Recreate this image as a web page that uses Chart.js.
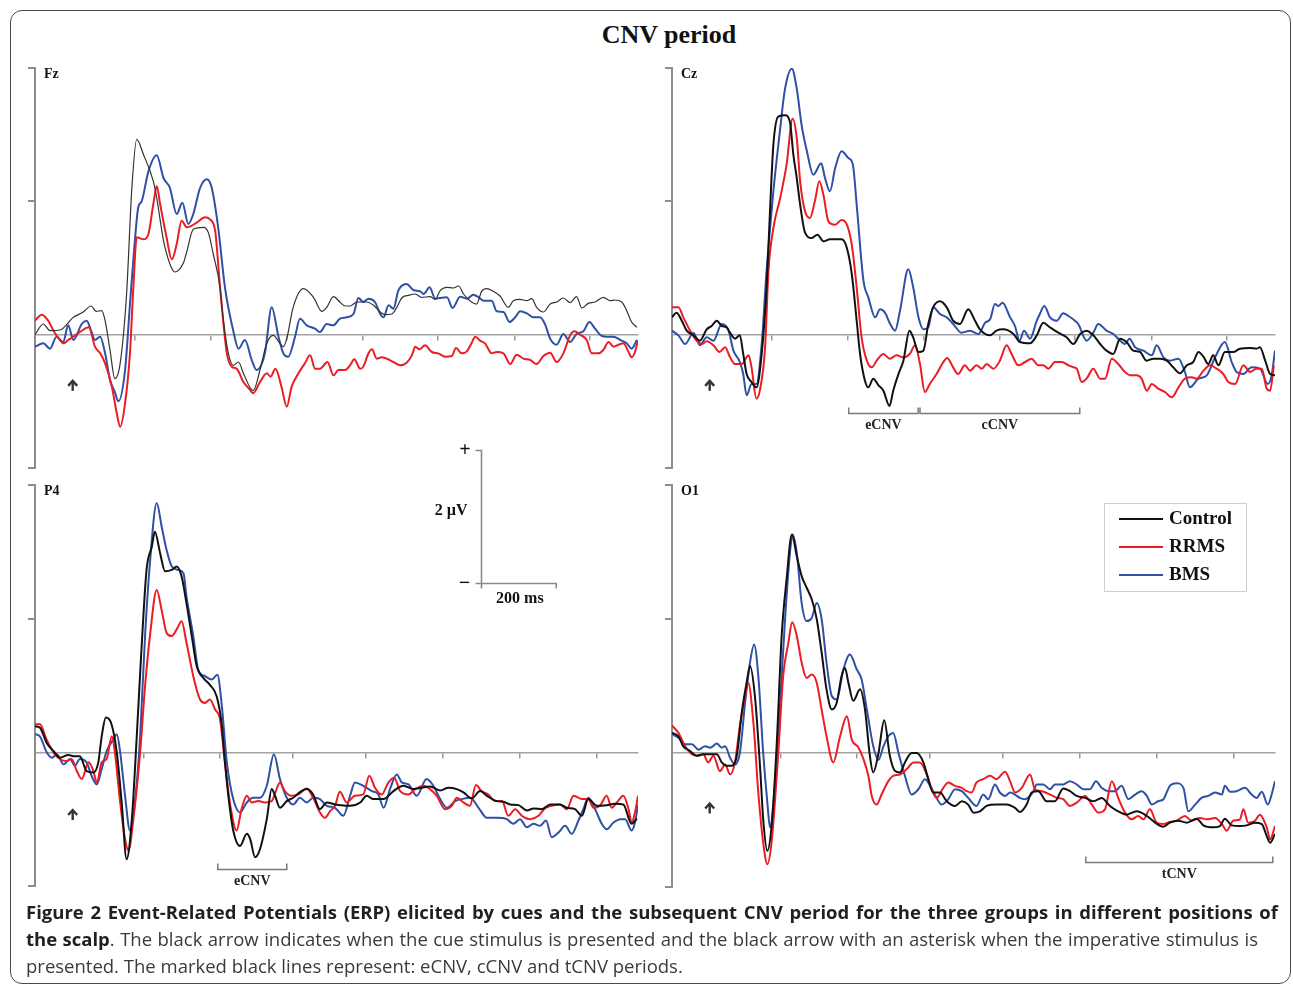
<!DOCTYPE html>
<html><head><meta charset="utf-8">
<script src="https://cdn.jsdelivr.net/npm/chart.js@4.4.1/dist/chart.umd.min.js"></script>
<style>
html,body{margin:0;padding:0;background:#fff;}
body{width:1293px;height:984px;position:relative;overflow:hidden;}
#frame{position:absolute;left:10px;top:10px;width:1281px;height:974px;box-sizing:border-box;border:1.5px solid #4a4a4a;border-radius:12px;}
#title{position:absolute;left:669px;top:20px;transform:translateX(-50%);font:bold 26px 'Liberation Serif',serif;color:#111;white-space:nowrap;}
canvas{position:absolute;}
.cap{position:absolute;left:26px;width:1252px;font:18.5px 'Open Sans',sans-serif;line-height:24px;color:#3a3a3a;white-space:nowrap;}
.j{text-align:justify;text-align-last:justify;}
.cap b{color:#231f20;font-weight:700;}
</style></head>
<body>
<div id="frame"></div>
<div id="title">CNV period</div>
<canvas id="cFz" width="640" height="560" style="left:20px;top:58px"></canvas>
<canvas id="cCz" width="636" height="422" style="left:657px;top:58px"></canvas>
<canvas id="cP4" width="640" height="425" style="left:20px;top:475px"></canvas>
<canvas id="cO1" width="636" height="425" style="left:657px;top:475px"></canvas>
<div class="cap j" id="cap1" style="top:900px"><b>Figure 2 Event-Related Potentials (ERP) elicited by cues and the subsequent CNV period for the three groups in different positions of</b></div>
<div class="cap j" id="cap2" style="top:927px;width:1232px"><b>the scalp</b>. The black arrow indicates when the cue stimulus is presented and the black arrow with an asterisk when the imperative stimulus is</div>
<div class="cap" id="cap3" style="top:954px">presented. The marked black lines represent: eCNV, cCNV and tCNV periods.</div>
<script>
// ---- data: [time (ms), amplitude (µV)] ----
const groups = ['Control', 'RRMS', 'BMS'];

const fzControl = [[-100,0.00],[-78,0.16],[-60,0.06],[-34,0.07],[2,0.26],[28,0.34],[49,0.43],[62,0.35],[77,0.36],[86,0.21],[99,-0.23],[112,-0.66],[126,-0.43],[143,0.61],[157,2.20],[170,2.93],[188,2.70],[214,2.30],[223,2.05],[241,1.41],[258,1.06],[271,0.94],[294,1.08],[302,1.23],[320,1.58],[347,1.61],[360,1.53],[373,1.21],[391,0.71],[400,0.21],[413,-0.28],[426,-0.46],[440,-0.41],[453,-0.58],[479,-0.84],[497,-0.53],[515,-0.13],[532,-0.01],[550,-0.13],[559,-0.18],[568,-0.06],[585,0.41],[612,0.69],[639,0.56],[661,0.35],[674,0.41],[692,0.57],[709,0.49],[723,0.43],[736,0.43],[754,0.49],[780,0.49],[798,0.44],[816,0.34],[829,0.30],[847,0.31],[860,0.41],[873,0.55],[891,0.59],[909,0.61],[926,0.56],[948,0.57],[962,0.53],[975,0.66],[993,0.71],[1010,0.70],[1024,0.73],[1037,0.61],[1054,0.51],[1072,0.46],[1085,0.65],[1099,0.69],[1116,0.65],[1134,0.58],[1156,0.41],[1169,0.51],[1187,0.53],[1205,0.51],[1218,0.54],[1231,0.41],[1249,0.34],[1267,0.46],[1284,0.49],[1302,0.55],[1320,0.48],[1337,0.57],[1351,0.40],[1368,0.47],[1386,0.49],[1408,0.56],[1426,0.51],[1439,0.52],[1457,0.49],[1470,0.36],[1483,0.19],[1497,0.11]];
const fzRRMS = [[-100,0.21],[-82,0.30],[-65,0.21],[-51,0.06],[-34,-0.08],[-25,-0.13],[-12,-0.08],[2,-0.03],[19,0.04],[43,0.11],[59,-0.18],[73,-0.28],[86,-0.43],[104,-0.78],[117,-1.18],[126,-1.38],[139,-1.03],[152,-0.28],[161,0.71],[170,1.46],[188,1.43],[201,1.51],[214,1.96],[223,2.23],[232,1.96],[249,1.46],[263,1.13],[276,1.36],[289,1.71],[303,1.61],[329,1.68],[351,1.76],[364,1.73],[378,1.56],[391,0.71],[409,-0.28],[422,-0.48],[435,-0.51],[453,-0.71],[471,-0.83],[479,-0.88],[497,-0.71],[515,-0.58],[525,-0.63],[538,-0.51],[554,-0.78],[568,-1.08],[581,-0.78],[599,-0.58],[616,-0.43],[630,-0.31],[643,-0.51],[656,-0.51],[676,-0.41],[692,-0.61],[705,-0.53],[723,-0.53],[736,-0.46],[747,-0.37],[763,-0.51],[771,-0.48],[785,-0.28],[794,-0.22],[807,-0.36],[820,-0.34],[833,-0.36],[851,-0.41],[869,-0.46],[886,-0.42],[900,-0.31],[909,-0.18],[920,-0.22],[935,-0.16],[953,-0.26],[970,-0.28],[988,-0.33],[1006,-0.32],[1017,-0.20],[1032,-0.28],[1046,-0.25],[1059,-0.12],[1068,-0.03],[1081,-0.09],[1094,-0.13],[1112,-0.28],[1125,-0.26],[1143,-0.28],[1161,-0.44],[1178,-0.30],[1196,-0.36],[1214,-0.38],[1231,-0.44],[1249,-0.32],[1267,-0.27],[1284,-0.41],[1302,-0.28],[1320,-0.01],[1331,0.05],[1346,0.00],[1364,-0.08],[1377,-0.28],[1395,-0.28],[1408,-0.23],[1422,-0.11],[1435,-0.18],[1453,-0.14],[1461,-0.13],[1475,-0.26],[1483,-0.34],[1492,-0.26],[1500,-0.08]];
const fzBMS = [[-100,-0.18],[-78,-0.13],[-60,-0.21],[-43,-0.03],[-25,-0.11],[-12,0.14],[2,-0.08],[24,0.16],[37,0.21],[50,0.04],[59,-0.08],[73,-0.03],[86,-0.28],[99,-0.68],[112,-0.86],[121,-1.00],[139,-0.53],[152,0.46],[165,1.41],[174,1.91],[183,2.00],[201,2.45],[223,2.69],[241,2.35],[258,2.20],[276,1.81],[291,1.98],[307,1.66],[320,1.81],[338,2.20],[356,2.33],[369,2.20],[386,1.61],[404,0.71],[426,0.06],[440,-0.21],[457,-0.08],[475,-0.38],[488,-0.53],[510,-0.28],[528,0.41],[546,-0.03],[559,-0.28],[572,-0.33],[590,-0.03],[603,0.24],[621,0.14],[643,0.09],[656,0.04],[674,0.16],[692,0.14],[709,0.24],[727,0.26],[745,0.31],[758,0.55],[771,0.49],[785,0.54],[802,0.49],[816,0.31],[825,0.26],[838,0.44],[851,0.39],[864,0.66],[886,0.76],[904,0.67],[922,0.65],[931,0.61],[947,0.71],[962,0.54],[975,0.55],[993,0.56],[1008,0.40],[1028,0.57],[1046,0.54],[1063,0.60],[1077,0.56],[1090,0.51],[1112,0.51],[1125,0.35],[1143,0.34],[1159,0.19],[1174,0.26],[1187,0.35],[1205,0.32],[1223,0.26],[1240,0.26],[1253,0.16],[1267,-0.06],[1284,-0.15],[1302,0.01],[1320,-0.11],[1337,0.01],[1355,0.05],[1371,0.19],[1386,0.09],[1404,-0.02],[1417,-0.03],[1435,-0.03],[1453,-0.08],[1470,-0.13],[1483,-0.21],[1497,-0.08]];

const czControl = [[-100,0.26],[-88,0.33],[-74,0.21],[-61,0.06],[-43,-0.01],[-26,-0.09],[-8,0.08],[5,0.13],[19,0.21],[32,0.13],[45,0.11],[54,0.03],[67,-0.06],[80,-0.01],[89,-0.29],[98,-0.59],[111,-0.71],[124,-0.79],[138,-0.29],[151,0.71],[160,1.85],[169,2.85],[182,3.27],[200,3.29],[213,3.19],[222,2.70],[231,2.35],[240,1.95],[253,1.53],[271,1.45],[286,1.50],[302,1.40],[319,1.43],[350,1.43],[364,1.30],[377,0.91],[390,0.21],[399,-0.29],[412,-0.69],[421,-0.79],[434,-0.66],[448,-0.76],[461,-0.84],[477,-1.07],[487,-0.84],[501,-0.59],[514,-0.39],[530,0.06],[540,-0.04],[554,-0.26],[567,-0.24],[580,0.16],[593,0.41],[611,0.50],[629,0.41],[646,0.21],[664,0.16],[686,0.38],[704,0.21],[717,0.08],[744,-0.01],[761,0.06],[779,0.08],[806,0.01],[823,-0.11],[850,-0.13],[868,-0.01],[885,0.18],[903,0.11],[925,0.03],[947,-0.04],[965,-0.14],[983,0.01],[1000,0.06],[1018,-0.01],[1036,-0.14],[1053,-0.24],[1071,-0.29],[1089,-0.06],[1106,-0.11],[1124,-0.24],[1142,-0.26],[1159,-0.39],[1177,-0.36],[1195,-0.36],[1213,-0.39],[1230,-0.49],[1248,-0.58],[1266,-0.46],[1283,-0.41],[1297,-0.26],[1310,-0.33],[1323,-0.44],[1336,-0.31],[1350,-0.46],[1367,-0.26],[1389,-0.26],[1407,-0.21],[1434,-0.20],[1451,-0.21],[1460,-0.19],[1474,-0.39],[1487,-0.59],[1500,-0.61]];
const czRRMS = [[-100,0.41],[-83,0.41],[-70,0.26],[-52,0.06],[-35,-0.09],[-21,-0.14],[-8,-0.10],[10,-0.16],[26,-0.26],[41,-0.19],[54,-0.34],[67,-0.44],[85,-0.44],[103,-0.31],[111,-0.49],[124,-0.96],[133,-0.84],[147,-0.19],[156,0.96],[169,1.60],[187,2.05],[204,2.55],[220,3.24],[231,2.95],[240,2.30],[253,1.85],[266,1.75],[279,2.00],[291,2.30],[302,2.09],[315,1.70],[333,1.65],[350,1.72],[364,1.65],[377,1.35],[390,0.71],[403,-0.04],[417,-0.39],[430,-0.49],[443,-0.39],[461,-0.29],[478,-0.36],[496,-0.31],[514,-0.34],[531,-0.29],[545,-0.16],[558,-0.44],[571,-0.86],[584,-0.74],[602,-0.59],[620,-0.41],[630,-0.35],[646,-0.49],[659,-0.59],[677,-0.46],[691,-0.54],[708,-0.46],[722,-0.51],[735,-0.44],[753,-0.51],[770,-0.39],[788,-0.16],[801,-0.29],[819,-0.46],[837,-0.41],[854,-0.36],[872,-0.46],[885,-0.46],[899,-0.51],[916,-0.41],[934,-0.41],[952,-0.46],[965,-0.49],[974,-0.51],[987,-0.71],[1000,-0.66],[1018,-0.51],[1036,-0.66],[1049,-0.66],[1067,-0.36],[1084,-0.44],[1102,-0.56],[1115,-0.61],[1133,-0.61],[1146,-0.66],[1160,-0.84],[1173,-0.74],[1190,-0.81],[1208,-0.86],[1226,-0.94],[1244,-0.79],[1261,-0.66],[1279,-0.64],[1292,-0.66],[1310,-0.54],[1328,-0.46],[1345,-0.51],[1363,-0.59],[1376,-0.71],[1394,-0.74],[1416,-0.46],[1434,-0.56],[1451,-0.51],[1465,-0.51],[1478,-0.81],[1487,-0.84],[1497,-0.46]];
const czBMS = [[-100,0.06],[-83,-0.01],[-65,-0.14],[-43,0.03],[-26,-0.16],[-8,-0.04],[10,-0.09],[32,0.16],[50,0.06],[63,-0.24],[80,-0.41],[89,-0.59],[98,-0.91],[111,-0.74],[124,-0.74],[138,-0.14],[151,0.96],[169,2.15],[187,3.09],[200,3.69],[218,3.99],[231,3.69],[244,3.14],[258,2.75],[275,2.40],[296,2.57],[306,2.35],[319,2.15],[333,2.50],[350,2.75],[368,2.65],[380,2.55],[390,1.95],[408,0.81],[421,0.56],[439,0.26],[452,0.38],[465,0.33],[479,0.16],[492,0.06],[505,0.36],[527,0.98],[540,0.71],[554,0.26],[567,0.08],[580,0.11],[593,0.41],[611,0.31],[629,0.26],[646,0.16],[668,0.03],[691,0.06],[713,0.01],[731,0.18],[744,0.23],[757,0.46],[766,0.43],[777,0.48],[797,0.26],[810,0.13],[822,-0.09],[834,0.06],[850,-0.06],[868,0.21],[876,0.31],[888,0.43],[903,0.26],[921,0.21],[938,0.32],[952,0.28],[969,0.21],[978,0.16],[1000,-0.09],[1018,0.03],[1031,0.16],[1053,0.06],[1071,0.01],[1089,-0.09],[1102,-0.14],[1114,-0.06],[1129,-0.19],[1151,-0.24],[1173,-0.31],[1186,-0.16],[1204,-0.34],[1221,-0.39],[1244,-0.36],[1261,-0.56],[1274,-0.79],[1297,-0.66],[1319,-0.61],[1341,-0.34],[1367,-0.11],[1385,-0.41],[1398,-0.56],[1416,-0.59],[1438,-0.49],[1460,-0.51],[1481,-0.74],[1491,-0.61],[1500,-0.24]];

const p4Control = [[-100,0.39],[-87,0.37],[-69,0.14],[-51,0.02],[-34,-0.08],[-12,-0.04],[6,-0.06],[19,-0.06],[37,-0.28],[55,-0.30],[68,-0.15],[77,0.24],[88,0.52],[103,0.42],[117,0.00],[130,-0.75],[143,-1.60],[157,-1.00],[170,0.24],[183,1.59],[196,2.73],[210,3.08],[218,3.30],[232,2.98],[245,2.71],[263,2.73],[276,2.78],[289,2.63],[302,2.23],[316,1.74],[329,1.29],[347,1.11],[364,1.01],[382,0.84],[395,0.44],[404,-0.15],[413,-0.65],[426,-1.17],[444,-1.40],[462,-1.22],[471,-1.30],[484,-1.57],[497,-1.45],[515,-1.00],[528,-0.55],[537,-0.65],[550,-0.83],[568,-0.73],[585,-0.68],[607,-0.58],[621,-0.55],[638,-0.63],[656,-0.85],[674,-0.75],[696,-0.78],[710,-0.79],[736,-0.80],[763,-0.75],[780,-0.65],[798,-0.70],[825,-0.70],[851,-0.58],[878,-0.50],[904,-0.55],[926,-0.53],[948,-0.51],[975,-0.57],[997,-0.53],[1019,-0.55],[1037,-0.60],[1059,-0.69],[1081,-0.58],[1099,-0.65],[1125,-0.73],[1143,-0.74],[1161,-0.78],[1183,-0.79],[1205,-0.87],[1223,-0.84],[1245,-0.85],[1267,-0.78],[1293,-0.78],[1311,-0.83],[1333,-0.85],[1351,-0.95],[1368,-0.70],[1391,-0.80],[1417,-0.79],[1439,-0.77],[1461,-0.78],[1483,-1.07],[1497,-0.99]];
const p4RRMS = [[-100,0.42],[-87,0.42],[-69,0.19],[-51,0.00],[-34,-0.10],[-16,-0.13],[-3,-0.10],[11,-0.28],[24,-0.40],[42,-0.15],[55,-0.28],[64,-0.45],[77,-0.15],[90,-0.10],[104,0.24],[112,0.00],[126,-0.75],[139,-1.30],[148,-1.47],[161,-1.00],[179,0.00],[192,0.99],[205,1.74],[223,2.43],[236,2.13],[249,1.79],[263,1.74],[276,1.84],[289,1.96],[302,1.64],[320,1.14],[338,0.79],[351,0.74],[364,0.79],[378,0.64],[391,0.49],[404,-0.15],[417,-0.75],[435,-1.17],[448,-0.85],[462,-0.65],[475,-0.75],[493,-0.73],[510,-0.75],[528,-0.73],[541,-0.55],[550,-0.45],[563,-0.58],[581,-0.65],[599,-0.63],[621,-0.54],[638,-0.68],[656,-0.90],[669,-0.98],[683,-0.88],[696,-0.80],[709,-0.59],[727,-0.75],[749,-0.65],[771,-0.63],[787,-0.35],[802,-0.53],[820,-0.63],[838,-0.45],[853,-0.38],[869,-0.58],[891,-0.63],[909,-0.55],[931,-0.50],[948,-0.55],[966,-0.65],[988,-0.85],[1006,-0.80],[1019,-0.68],[1037,-0.75],[1054,-0.80],[1070,-0.49],[1085,-0.58],[1103,-0.63],[1121,-0.73],[1139,-0.73],[1156,-0.95],[1174,-0.85],[1192,-0.95],[1214,-1.00],[1236,-0.95],[1253,-0.84],[1271,-0.80],[1293,-0.78],[1311,-0.85],[1329,-0.65],[1351,-0.70],[1368,-0.70],[1382,-0.83],[1399,-0.80],[1417,-0.65],[1430,-0.83],[1444,-0.75],[1461,-0.65],[1475,-0.85],[1483,-1.05],[1492,-0.90],[1500,-0.65]];
const p4BMS = [[-100,0.27],[-87,0.24],[-69,0.00],[-55,-0.08],[-42,-0.03],[-24,-0.18],[-7,-0.10],[6,-0.20],[19,-0.10],[37,-0.15],[50,-0.35],[64,-0.48],[77,-0.25],[90,0.02],[108,0.19],[117,0.27],[126,0.00],[139,-0.65],[152,-1.17],[165,-0.75],[179,0.24],[192,1.74],[205,2.83],[223,3.73],[236,3.38],[249,3.03],[263,2.78],[280,2.73],[294,2.68],[302,2.33],[320,1.74],[333,1.24],[351,1.14],[369,1.09],[384,1.16],[395,0.74],[409,-0.15],[426,-0.70],[444,-0.90],[462,-0.75],[479,-0.68],[497,-0.68],[515,-0.50],[534,-0.03],[550,-0.40],[568,-0.68],[585,-0.78],[603,-0.68],[621,-0.75],[638,-0.68],[656,-0.70],[674,-0.80],[696,-0.83],[718,-0.95],[736,-0.65],[749,-0.45],[771,-0.50],[794,-0.58],[811,-0.63],[825,-0.83],[842,-0.55],[860,-0.33],[873,-0.45],[891,-0.48],[913,-0.65],[939,-0.40],[957,-0.50],[975,-0.70],[993,-0.83],[1015,-0.73],[1032,-0.70],[1055,-0.68],[1077,-0.83],[1099,-0.98],[1125,-0.98],[1152,-1.00],[1169,-1.07],[1187,-1.00],[1205,-1.12],[1223,-1.07],[1240,-1.10],[1256,-1.02],[1271,-1.27],[1289,-1.20],[1307,-1.10],[1324,-1.22],[1342,-1.02],[1355,-0.85],[1368,-0.68],[1386,-0.85],[1404,-1.07],[1417,-1.15],[1435,-1.05],[1453,-1.00],[1466,-1.00],[1483,-1.17],[1492,-1.05],[1500,-0.78]];

const o1Control = [[-100,0.30],[-83,0.25],[-70,0.10],[-52,0.03],[-35,-0.04],[-17,-0.02],[1,-0.02],[19,-0.02],[32,-0.14],[45,-0.19],[58,-0.19],[72,-0.04],[85,0.60],[98,1.05],[107,1.30],[120,0.85],[134,-0.24],[142,-0.99],[153,-1.46],[165,-1.04],[178,0.15],[191,1.75],[204,2.59],[218,3.26],[231,2.94],[244,2.64],[257,2.47],[271,2.29],[284,2.00],[297,1.50],[310,0.95],[324,0.65],[337,0.75],[350,1.15],[359,1.27],[368,1.05],[381,0.78],[399,0.95],[412,0.65],[425,-0.04],[434,-0.29],[448,0.00],[463,0.49],[478,-0.04],[492,-0.27],[505,-0.29],[518,-0.14],[536,0.00],[549,0.00],[567,-0.14],[580,-0.39],[593,-0.59],[611,-0.59],[629,-0.72],[651,-0.79],[669,-0.72],[686,-0.77],[700,-0.89],[717,-0.87],[735,-0.79],[761,-0.77],[788,-0.77],[810,-0.82],[823,-0.88],[841,-0.77],[854,-0.59],[872,-0.57],[894,-0.72],[916,-0.72],[938,-0.53],[956,-0.57],[974,-0.64],[996,-0.67],[1018,-0.72],[1040,-0.67],[1062,-0.79],[1084,-0.87],[1106,-0.92],[1133,-0.87],[1160,-0.94],[1182,-1.04],[1204,-1.10],[1221,-1.04],[1243,-1.01],[1266,-1.04],[1292,-0.98],[1310,-1.08],[1336,-1.11],[1354,-1.09],[1367,-0.98],[1385,-1.08],[1407,-1.09],[1425,-1.08],[1447,-1.04],[1465,-1.06],[1478,-1.24],[1487,-1.34],[1500,-1.21]];
const o1RRMS = [[-100,0.41],[-83,0.30],[-65,0.10],[-47,-0.02],[-30,-0.04],[-17,-0.02],[-4,-0.14],[10,-0.04],[27,-0.27],[41,-0.17],[54,-0.32],[67,-0.14],[80,0.40],[94,0.85],[102,1.05],[116,0.45],[129,-0.59],[142,-1.34],[153,-1.66],[165,-1.29],[182,0.00],[195,1.15],[209,1.65],[219,1.95],[231,1.75],[244,1.35],[257,1.12],[271,1.17],[284,1.05],[297,0.65],[310,0.25],[328,-0.14],[346,0.25],[364,0.55],[377,0.20],[395,0.08],[408,-0.09],[421,-0.34],[430,-0.64],[443,-0.77],[456,-0.62],[474,-0.42],[487,-0.34],[505,-0.32],[523,-0.24],[541,-0.14],[558,-0.14],[576,-0.32],[589,-0.54],[602,-0.67],[620,-0.52],[633,-0.44],[651,-0.49],[669,-0.52],[682,-0.57],[695,-0.59],[708,-0.44],[726,-0.39],[744,-0.34],[761,-0.39],[784,-0.28],[797,-0.42],[810,-0.59],[828,-0.52],[850,-0.32],[863,-0.54],[881,-0.57],[903,-0.62],[921,-0.67],[938,-0.69],[956,-0.79],[974,-0.74],[996,-0.64],[1014,-0.77],[1031,-0.89],[1049,-0.84],[1067,-0.42],[1084,-0.67],[1102,-0.89],[1120,-0.99],[1137,-0.94],[1151,-0.99],[1168,-0.84],[1186,-1.04],[1204,-1.06],[1221,-1.03],[1239,-1.01],[1261,-0.94],[1279,-1.01],[1301,-0.97],[1319,-0.99],[1341,-0.97],[1359,-1.06],[1372,-1.16],[1389,-1.01],[1407,-0.99],[1416,-0.84],[1429,-1.04],[1447,-1.01],[1460,-0.92],[1478,-1.11],[1487,-1.29],[1500,-1.09]];
const o1BMS = [[-100,0.28],[-83,0.23],[-65,0.13],[-47,0.13],[-30,0.05],[-12,0.10],[1,0.08],[19,0.14],[32,0.08],[41,0.10],[54,-0.07],[67,-0.17],[80,0.00],[94,0.75],[107,1.35],[118,1.62],[129,1.15],[142,0.00],[153,-0.74],[160,-1.11],[173,-0.49],[187,0.75],[200,2.00],[213,2.99],[220,3.26],[231,2.99],[244,2.24],[257,1.97],[271,2.02],[284,2.24],[297,2.00],[310,1.35],[324,0.85],[337,0.80],[355,1.25],[372,1.47],[390,1.25],[403,1.10],[417,0.65],[434,0.10],[448,-0.10],[461,0.10],[474,0.25],[487,0.30],[501,0.00],[518,-0.34],[536,-0.62],[554,-0.54],[571,-0.39],[585,-0.49],[602,-0.67],[615,-0.77],[633,-0.69],[651,-0.54],[669,-0.57],[686,-0.67],[708,-0.79],[726,-0.62],[739,-0.69],[757,-0.47],[770,-0.59],[784,-0.64],[797,-0.59],[810,-0.62],[823,-0.67],[837,-0.69],[850,-0.64],[859,-0.57],[868,-0.47],[885,-0.47],[903,-0.54],[916,-0.47],[938,-0.47],[956,-0.42],[974,-0.47],[991,-0.54],[1009,-0.54],[1025,-0.42],[1040,-0.52],[1058,-0.57],[1075,-0.57],[1093,-0.49],[1111,-0.69],[1129,-0.62],[1146,-0.57],[1160,-0.64],[1173,-0.77],[1190,-0.72],[1204,-0.69],[1221,-0.49],[1239,-0.45],[1257,-0.52],[1270,-0.87],[1288,-0.77],[1305,-0.67],[1323,-0.64],[1341,-0.59],[1359,-0.62],[1367,-0.49],[1381,-0.58],[1398,-0.57],[1420,-0.52],[1438,-0.62],[1451,-0.67],[1465,-0.58],[1481,-0.77],[1491,-0.62],[1500,-0.42]];

// x tick marks (ms) on the zero line, y tick marks (µV) on the left axis
const topRowTicks = [165, 366, 568, 770, 968, 1172, 1372];
const bottomRowTicks = [189, 391, 584, 778, 983, 1185, 1390];
const yTicks = [-2, 2, 4];

// marked periods: [label, start ms, end ms, level µV]
const czPeriods = [['eCNV', 369, 553, -1.17], ['cCNV', 558, 982, -1.17]];
const p4Periods = [['eCNV', 385, 568, -1.75]];
const o1Periods = [['tCNV', 998, 1494, -1.63]];
// cue arrow level (µV) at t = 0 ms
const cueLevel = {Fz: -0.76, Cz: -0.76, P4: -0.93, O1: -0.82};
// scale bar: 2 µV / 200 ms
const scaleBar = {t: 1083, v: -1.73, dt: 200, dv: 2, vLabel: '2 µV', tLabel: '200 ms'};

// ---- drawing ----
const COLORS = ['#111111', '#ec1c24', '#2e50a5'];
const SERIF = '"Liberation Serif", "Times New Roman", serif';

const overlay = {
  id: 'overlay',
  afterDraw(chart, args, o) {
    const ctx = chart.ctx, xs = chart.scales.x, ys = chart.scales.y, ca = chart.chartArea;
    ctx.save();
    ctx.fillStyle = '#111';
    ctx.font = 'bold 14px ' + SERIF;
    ctx.textAlign = 'left'; ctx.textBaseline = 'alphabetic';
    ctx.fillText(o.name, ca.left + 9, ca.top + 10);
    // cue arrow
    const ax = xs.getPixelForValue(0), ay = ys.getPixelForValue(o.cue);
    ctx.strokeStyle = '#333'; ctx.lineWidth = 2.4; ctx.lineCap = 'butt'; ctx.lineJoin = 'miter';
    ctx.beginPath(); ctx.moveTo(ax, ay + 5.5); ctx.lineTo(ax, ay - 4); ctx.stroke();
    ctx.beginPath(); ctx.moveTo(ax - 4.5, ay + 0.5); ctx.lineTo(ax, ay - 4.5); ctx.lineTo(ax + 4.5, ay + 0.5); ctx.stroke();
    // periods
    (o.periods || []).forEach(([lab, t0, t1, v]) => {
      const x0 = xs.getPixelForValue(t0), x1 = xs.getPixelForValue(t1), y = Math.round(ys.getPixelForValue(v)) + 0.5;
      ctx.strokeStyle = '#7a7a7a'; ctx.lineWidth = 1.5;
      ctx.beginPath(); ctx.moveTo(x0, y - 6); ctx.lineTo(x0, y); ctx.lineTo(x1, y); ctx.lineTo(x1, y - 6); ctx.stroke();
      ctx.fillStyle = '#222'; ctx.font = 'bold 14px ' + SERIF; ctx.textAlign = 'center'; ctx.textBaseline = 'middle';
      ctx.fillText(lab, (x0 + x1) / 2, y + 12);
    });
    // scale bar
    if (o.scaleBar) {
      const s = o.scaleBar;
      const x0 = Math.round(xs.getPixelForValue(s.t)) + 0.5, x1 = xs.getPixelForValue(s.t + s.dt);
      const yT = Math.round(ys.getPixelForValue(s.v)) + 0.5, yB = Math.round(ys.getPixelForValue(s.v - s.dv)) + 0.5;
      ctx.strokeStyle = '#8a8a8a'; ctx.lineWidth = 1.6;
      ctx.beginPath(); ctx.moveTo(x0 - 6, yT); ctx.lineTo(x0, yT); ctx.lineTo(x0, yB); ctx.stroke();
      ctx.beginPath(); ctx.moveTo(x0 - 6, yB); ctx.lineTo(x1, yB); ctx.lineTo(x1, yB + 5); ctx.stroke();
      ctx.beginPath(); ctx.moveTo(x0, yB); ctx.lineTo(x0, yB + 5); ctx.stroke();
      ctx.fillStyle = '#111'; ctx.textBaseline = 'middle'; ctx.textAlign = 'center';
      ctx.font = 'bold 20px ' + SERIF;
      ctx.fillText('+', x0 - 16.5, yT);
      ctx.fillText('\u2212', x0 - 17, yB);
      ctx.font = 'bold 16px ' + SERIF;
      ctx.textAlign = 'right';
      ctx.fillText(s.vLabel, x0 - 14, (yT + yB) / 2 - 6);
      ctx.textAlign = 'center';
      ctx.fillText(s.tLabel, (x0 + x1) / 2 + 1, yB + 15);
    }
    // legend
    if (o.legend) {
      const L = {x: ca.right - 171, y: ca.top + 18, w: 142, h: 88};
      ctx.strokeStyle = '#cfcfcf'; ctx.lineWidth = 1;
      ctx.strokeRect(Math.round(L.x) + 0.5, Math.round(L.y) + 0.5, L.w, L.h);
      chart.data.datasets.forEach((d, i) => {
        const yy = L.y + 16 + i * 28;
        ctx.strokeStyle = d.borderColor; ctx.lineWidth = 2;
        ctx.beginPath(); ctx.moveTo(L.x + 15, yy); ctx.lineTo(L.x + 59, yy); ctx.stroke();
        ctx.fillStyle = '#111'; ctx.font = 'bold 19px ' + SERIF; ctx.textAlign = 'left'; ctx.textBaseline = 'middle';
        ctx.fillText(d.label, L.x + 65, yy);
      });
    }
    ctx.restore();
  }
};

function makePanel(canvasId, name, series, ticks, extra, padding) {
  const widths = name === 'Fz' ? [1.2, 2, 2] : [2, 2, 2];
  const blackCol = name === 'Fz' ? '#333' : COLORS[0];
  new Chart(document.getElementById(canvasId), {
    type: 'line',
    data: {
      datasets: series.map((s, i) => ({
        label: groups[i],
        data: s.map(([x, y]) => ({x, y})),
        borderColor: i === 0 ? blackCol : COLORS[i],
        borderWidth: widths[i],
        pointRadius: 0,
        fill: false,
        cubicInterpolationMode: 'monotone'
      }))
    },
    options: {
      responsive: false, animation: false, devicePixelRatio: 1, events: [],
      layout: {padding},
      plugins: {
        legend: {display: false}, tooltip: {enabled: false},
        overlay: Object.assign({name, cue: cueLevel[name]}, extra)
      },
      scales: {
        x: {
          type: 'linear', min: -100, max: 1500, position: {y: 0},
          afterBuildTicks: sc => { sc.ticks = ticks.map(v => ({value: v})); },
          ticks: {display: false},
          grid: {drawOnChartArea: false, drawTicks: true, tickLength: 5, color: '#9a9a9a', lineWidth: 1.5},
          border: {display: true, color: '#a3a3a3', width: 1.5}
        },
        y: {
          type: 'linear', min: -2, max: 4, position: 'left',
          afterBuildTicks: sc => { sc.ticks = yTicks.map(v => ({value: v})); },
          afterFit: sc => { sc.width = 8; },
          ticks: {display: false},
          grid: {drawOnChartArea: false, drawTicks: true, tickLength: 7, color: '#8c8c8c', lineWidth: 2},
          border: {display: true, color: '#8c8c8c', width: 2}
        }
      }
    },
    plugins: [overlay]
  });
}

makePanel('cFz', 'Fz', [fzControl, fzRRMS, fzBMS], topRowTicks, {scaleBar}, {left: 7, top: 10, right: 22, bottom: 150});
makePanel('cCz', 'Cz', [czControl, czRRMS, czBMS], topRowTicks, {periods: czPeriods}, {left: 7, top: 10, right: 18, bottom: 12});
makePanel('cP4', 'P4', [p4Control, p4RRMS, p4BMS], bottomRowTicks, {periods: p4Periods}, {left: 7, top: 10, right: 22, bottom: 14});
makePanel('cO1', 'O1', [o1Control, o1RRMS, o1BMS], bottomRowTicks, {periods: o1Periods, legend: true}, {left: 7, top: 10, right: 18, bottom: 13});

// keep justified caption lines within their boxes
['cap1', 'cap2'].forEach(id => {
  const el = document.getElementById(id);
  const probe = document.createElement('span');
  probe.innerHTML = el.innerHTML;
  probe.style.cssText = 'position:absolute;visibility:hidden;white-space:nowrap;font:' + getComputedStyle(el).font;
  document.body.appendChild(probe);
  let ls = 0;
  while (probe.getBoundingClientRect().width > el.clientWidth - 4 && ls > -1.5) {
    ls -= 0.05; probe.style.letterSpacing = ls + 'px';
  }
  el.style.letterSpacing = ls + 'px';
  probe.remove();
});
</script>
</body></html>
